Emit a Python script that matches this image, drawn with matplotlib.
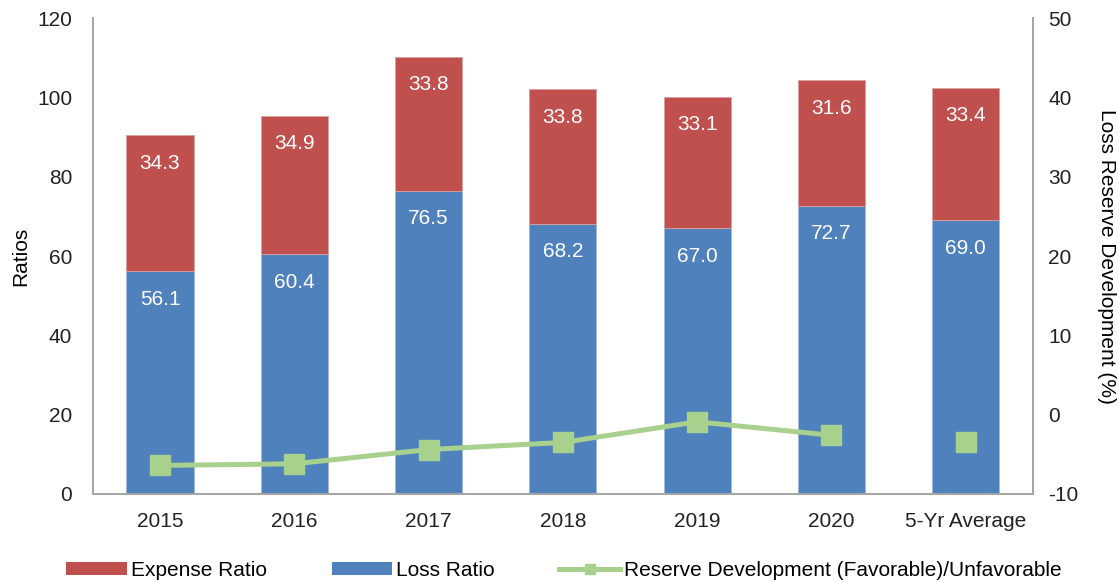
import numpy as np
import matplotlib
matplotlib.use("Agg")
import matplotlib.pyplot as plt
from matplotlib.lines import Line2D
from matplotlib.patches import Patch

plt.rcParams['font.family'] = ['Liberation Sans', 'DejaVu Sans']
plt.rcParams['axes.unicode_minus'] = False

# data
categories = ["2015", "2016", "2017", "2018", "2019", "2020", "5-Yr Average"]
loss_ratio = [56.1, 60.4, 76.5, 68.2, 67.0, 72.7, 69.0]
expense_ratio = [34.3, 34.9, 33.8, 33.8, 33.1, 31.6, 33.4]
reserve_dev = [-6.4, -6.2, -4.4, -3.5, -0.9, -2.6]   # 2015-2020, joined by a line
reserve_avg = -3.5                                   # 5-yr average, marker only

red = "#C0504D"
blue = "#4F81BD"
green = "#A9D18E"
grey = "#A6A6A6"
fs = 15

fig = plt.figure(figsize=(11.19, 5.83), dpi=100)
ax = fig.add_axes([0.083, 0.1527, 0.84, 0.8163])
x = np.arange(len(categories))

ax.bar(x, loss_ratio, width=0.5, color=blue, edgecolor="#9DB9DE", linewidth=0.6, zorder=2)
ax.bar(x, expense_ratio, width=0.5, bottom=loss_ratio, color=red, edgecolor="#D9A09E",
       linewidth=0.6, zorder=2)

for i in range(len(x)):
    ax.annotate(f"{loss_ratio[i]:.1f}", (x[i], loss_ratio[i]), xytext=(0, -20),
                textcoords="offset points", ha="center", va="center", color="white", fontsize=fs)
    top = loss_ratio[i] + expense_ratio[i]
    ax.annotate(f"{expense_ratio[i]:.1f}", (x[i], top), xytext=(0, -20),
                textcoords="offset points", ha="center", va="center", color="white", fontsize=fs)

ax.set_xlim(-0.5, len(categories) - 0.5)
ax.set_ylim(0, 120)
ax.set_yticks(np.arange(0, 121, 20))
ax.set_xticks(x)
ax.set_xticklabels(categories)
ax.set_ylabel("Ratios", fontsize=fs, labelpad=5)

ax2 = ax.twinx()
ax2.plot(x[:len(reserve_dev)], reserve_dev, color=green, linewidth=3.6, marker="s",
         markersize=14, zorder=3)
ax2.plot([x[-1]], [reserve_avg], color=green, linestyle="none", marker="s", markersize=14)
ax2.set_ylim(-10, 50)
ax2.set_yticks(np.arange(-10, 51, 10))
ax2.set_ylabel("Loss Reserve Development (%)", fontsize=fs, rotation=-90, labelpad=27)

for a in (ax, ax2):
    a.tick_params(length=0, labelsize=fs, colors="#222222")
    a.spines["top"].set_visible(False)
    for s in ("left", "right", "bottom"):
        a.spines[s].set_color(grey)
        a.spines[s].set_linewidth(1.3)
ax.tick_params(axis="y", pad=15)
ax.tick_params(axis="x", pad=13)
ax2.tick_params(axis="y", pad=11)

handles = [
    Patch(facecolor=red, label="Expense Ratio"),
    Patch(facecolor=blue, label="Loss Ratio"),
    Line2D([0], [0], color=green, linewidth=3.6, marker="s", markersize=7,
           label="Reserve Development (Favorable)/Unfavorable"),
]
fig.legend(handles=handles, loc="center", bbox_to_anchor=(0.504, 0.022), ncol=3, frameon=False,
           fontsize=fs, handlelength=2.9, handleheight=0.55, handletextpad=0.2,
           columnspacing=3.1)

fig.savefig("out.png", dpi=100)
